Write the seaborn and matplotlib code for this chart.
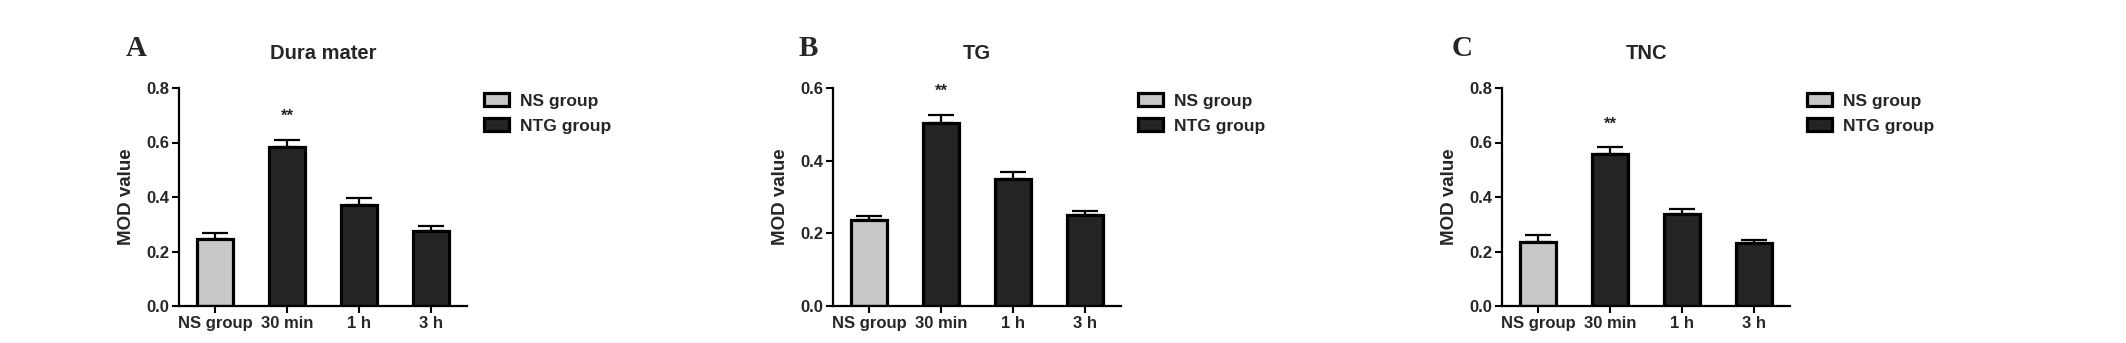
import numpy as np
import pandas as pd
import matplotlib
matplotlib.use("Agg")
import matplotlib.pyplot as plt
import seaborn as sns

# ── data ─────────────────────────────────────────────────────────────────────
categories = ["NS group", "30 min", "1 h", "3 h"]
groups = ["NS group", "NTG group", "NTG group", "NTG group"]

panel_letters = ["A", "B", "C"]
panel_titles = ["Dura mater", "TG", "TNC"]

dura_mean = [0.247, 0.583, 0.369, 0.277]
dura_err = [0.020, 0.026, 0.027, 0.017]

tg_mean = [0.236, 0.503, 0.349, 0.250]
tg_err = [0.013, 0.022, 0.021, 0.012]

tnc_mean = [0.235, 0.558, 0.338, 0.232]
tnc_err = [0.025, 0.024, 0.017, 0.011]

y_max = [0.8, 0.6, 0.8]
y_ticks = [[0.0, 0.2, 0.4, 0.6, 0.8], [0.0, 0.2, 0.4, 0.6], [0.0, 0.2, 0.4, 0.6, 0.8]]
star_label = "**"
star_index = 1

palette = {"NS group": "#c8c8c8", "NTG group": "#242424"}

# ── style ────────────────────────────────────────────────────────────────────
sns.set_style("ticks")
plt.rcParams["font.family"] = ["Liberation Sans", "DejaVu Sans"]
plt.rcParams["font.weight"] = "bold"
plt.rcParams["axes.labelweight"] = "bold"
plt.rcParams["axes.titleweight"] = "bold"

W, H = 2126, 343
fig = plt.figure(figsize=(W / 100, H / 100), dpi=100)

axes_left_px = [179, 833, 1502]
letter_x_px = [136, 808, 1462]
ax_w, ax_top, ax_bottom = 288, 88, 306

means = [dura_mean, tg_mean, tnc_mean]
errs = [dura_err, tg_err, tnc_err]

for i in range(3):
    ax = fig.add_axes([axes_left_px[i] / W, 1 - ax_bottom / H,
                       ax_w / W, (ax_bottom - ax_top) / H])
    df = pd.DataFrame({"time": categories, "mod": means[i], "group": groups})
    sns.barplot(data=df, x="time", y="mod", hue="group", palette=palette,
                dodge=False, width=0.5, edgecolor="black", linewidth=2.3,
                errorbar=None, ax=ax)
    x = np.arange(len(categories))
    ax.errorbar(x, means[i], yerr=[np.zeros(len(x)), errs[i]], fmt="none",
                ecolor="black", elinewidth=1.6, capsize=9.5, capthick=1.6,
                zorder=1)

    # significance stars
    ax.annotate(star_label, (star_index, means[i][star_index] + errs[i][star_index]),
                xytext=(0, 17), textcoords="offset points", ha="center",
                va="center", fontsize=12, fontweight="bold")

    ax.set_xlim(-0.5, 3.5)
    ax.set_ylim(0, y_max[i])
    ax.set_yticks(y_ticks[i])
    ax.set_yticklabels([f"{t:.1f}" for t in y_ticks[i]])
    ax.set_xlabel("")
    ax.set_ylabel("MOD value", fontsize=13.5, fontweight="bold", labelpad=8)
    ax.set_title(panel_titles[i], fontsize=14.5, fontweight="bold", pad=21)
    ax.tick_params(axis="both", labelsize=12, width=1.5, length=5, pad=2,
                   color="black")
    for lab in ax.get_xticklabels() + ax.get_yticklabels():
        lab.set_fontweight("bold")
    sns.despine(ax=ax)
    for sp in ["left", "bottom"]:
        ax.spines[sp].set_linewidth(1.6)
        ax.spines[sp].set_color("black")

    handles, labels = ax.get_legend_handles_labels()
    ax.legend(handles, labels, loc="upper left", bbox_to_anchor=(1.06, 0.975),
              frameon=False, fontsize=12.5, handlelength=1.45, handleheight=0.75,
              handletextpad=0.6, labelspacing=0.55, borderpad=0,
              borderaxespad=0)

    fig.text(letter_x_px[i] / W, 1 - 48 / H, panel_letters[i],
             family=["Liberation Serif", "DejaVu Serif"], fontsize=21,
             fontweight="bold", ha="center", va="center")

fig.savefig("out.png", dpi=100)
